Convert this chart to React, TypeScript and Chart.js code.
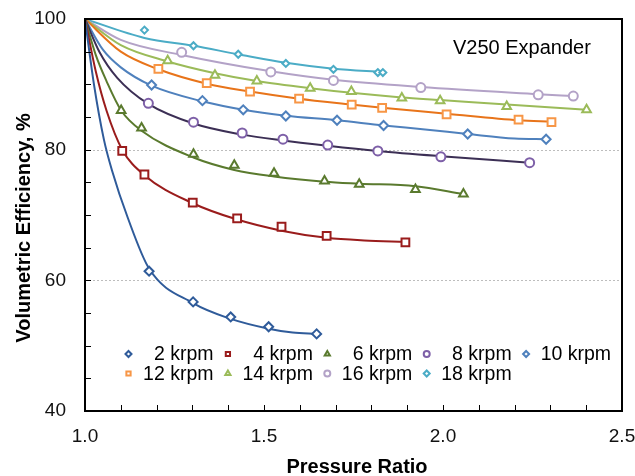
import { useEffect, useRef } from 'react';
import { Chart, registerables } from 'chart.js';
import { drawPoint } from 'chart.js/helpers';

Chart.register(...registerables);

// ---- Data ----
const seriesLabels = ['2 krpm', '4 krpm', '6 krpm', '8 krpm', '10 krpm', '12 krpm', '14 krpm', '16 krpm', '18 krpm'];

// measured points (markers)
const ratio2 = [1.179, 1.302, 1.407, 1.513, 1.647];
const eff2 = [61.4, 56.7, 54.4, 52.9, 51.8];
const ratio4 = [1.104, 1.166, 1.301, 1.425, 1.549, 1.675, 1.895];
const eff4 = [79.8, 76.2, 71.9, 69.5, 68.2, 66.8, 65.8];
const ratio6 = [1.101, 1.158, 1.303, 1.417, 1.528, 1.669, 1.766, 1.923, 2.057];
const eff6 = [86.0, 83.3, 79.3, 77.6, 76.4, 75.2, 74.7, 73.9, 73.2];
const ratio8 = [1.177, 1.303, 1.439, 1.553, 1.678, 1.818, 1.994, 2.242];
const eff8 = [87.1, 84.2, 82.55, 81.6, 80.7, 79.8, 78.9, 78.0];
const ratio10 = [1.186, 1.328, 1.442, 1.561, 1.704, 1.834, 2.069, 2.288];
const eff10 = [89.9, 87.5, 86.1, 85.15, 84.5, 83.7, 82.4, 81.6];
const ratio12 = [1.205, 1.34, 1.461, 1.598, 1.745, 1.83, 2.01, 2.211, 2.303];
const eff12 = [92.35, 90.2, 88.9, 87.8, 86.9, 86.4, 85.4, 84.6, 84.2];
const ratio14 = [1.231, 1.363, 1.48, 1.629, 1.744, 1.885, 1.992, 2.178, 2.401];
const eff14 = [93.6, 91.4, 90.5, 89.4, 88.9, 87.9, 87.5, 86.6, 86.1];
const ratio16 = [1.27, 1.519, 1.694, 1.938, 2.266, 2.364];
const eff16 = [94.9, 91.9, 90.6, 89.5, 88.4, 88.2];
const ratio18 = [1.166, 1.303, 1.428, 1.561, 1.694, 1.818, 1.832];
const eff18 = [98.3, 95.9, 94.6, 93.2, 92.3, 91.8, 91.8];

// trend curves
const fitRatio2 = [1.0, 1.025, 1.053, 1.075, 1.12, 1.179, 1.302, 1.407, 1.513, 1.58, 1.647];
const fitEff2 = [100, 90, 81.5, 76.9, 69.5, 61.8, 56.5, 54.1, 52.6, 52.0, 51.8];
const fitRatio4 = [1.0, 1.03, 1.06, 1.104, 1.166, 1.301, 1.425, 1.549, 1.675, 1.78, 1.895];
const fitEff4 = [100, 92.0, 86.0, 80.0, 76.1, 71.8, 69.3, 67.6, 66.5, 66.1, 65.9];
const fitRatio6 = [1.0, 1.03, 1.06, 1.101, 1.158, 1.303, 1.417, 1.528, 1.669, 1.766, 1.923, 2.057];
const fitEff6 = [100, 94.5, 90.5, 86.0, 82.9, 78.8, 76.9, 75.9, 75.1, 74.8, 74.4, 73.2];
const fitRatio8 = [1.0, 1.04, 1.09, 1.177, 1.303, 1.439, 1.553, 1.678, 1.818, 1.994, 2.242];
const fitEff8 = [100, 95.0, 91.0, 87.0, 84.0, 82.3, 81.4, 80.6, 79.8, 79.0, 78.0];
const fitRatio10 = [1.0, 1.05, 1.1, 1.186, 1.328, 1.442, 1.561, 1.704, 1.834, 1.95, 2.069, 2.2, 2.288];
const fitEff10 = [100, 95.3, 92.6, 89.8, 87.4, 86.1, 85.2, 84.5, 83.7, 83.1, 82.4, 81.7, 81.6];
const fitRatio12 = [1.0, 1.1, 1.205, 1.34, 1.461, 1.598, 1.745, 1.83, 2.01, 2.211, 2.303];
const fitEff12 = [100, 95.0, 92.3, 90.1, 88.9, 87.8, 86.9, 86.4, 85.5, 84.5, 84.3];
const fitRatio14 = [1.0, 1.1, 1.231, 1.363, 1.48, 1.629, 1.744, 1.885, 1.992, 2.178, 2.401];
const fitEff14 = [100, 96.0, 93.5, 91.7, 90.5, 89.4, 88.7, 88.0, 87.6, 86.9, 86.1];
const fitRatio16 = [1.0, 1.1, 1.27, 1.519, 1.694, 1.938, 2.266, 2.364];
const fitEff16 = [100, 96.8, 94.5, 92.0, 90.7, 89.6, 88.5, 88.2];
const fitRatio18 = [1.0, 1.166, 1.303, 1.428, 1.561, 1.694, 1.832];
const fitEff18 = [100, 97.1, 95.9, 94.6, 93.3, 92.4, 91.9];

const xTickValues = [1.0, 1.5, 2.0, 2.5];
const yTickValues = [40, 60, 80, 100];
const gridValues = [60, 80];
const annotationText = 'V250 Expander';
const xTitle = 'Pressure Ratio';
const yTitle = 'Volumetric Efficiency, %';

// ---- Styles ----
const markerColors = ['#2F5B9A', '#9A1C1C', '#5A7A2E', '#7E60A8', '#4F81BD', '#F79646', '#9BBB59', '#B3A2C7', '#4BACC6'];
const lineColors = ['#2F5B9A', '#9A1C1C', '#5A7A2E', '#3C2F55', '#4F81BD', '#E8741A', '#9BBB59', '#B3A2C7', '#4BACC6'];
const pointStyles = ['rectRot', 'rect', 'triangle', 'circle', 'rectRot', 'rect', 'triangle', 'circle', 'rectRot'];
const pointRadii = [4.5, 5.5, 5, 4.5, 4.5, 5.5, 5, 4.5, 3.5];
const FONT = 'Liberation Sans, Arial, sans-serif';

const seriesX = [ratio2, ratio4, ratio6, ratio8, ratio10, ratio12, ratio14, ratio16, ratio18];
const seriesY = [eff2, eff4, eff6, eff8, eff10, eff12, eff14, eff16, eff18];
const fitX = [fitRatio2, fitRatio4, fitRatio6, fitRatio8, fitRatio10, fitRatio12, fitRatio14, fitRatio16, fitRatio18];
const fitY = [fitEff2, fitEff4, fitEff6, fitEff8, fitEff10, fitEff12, fitEff14, fitEff16, fitEff18];

const decorPlugin = {
  id: 'decor',
  beforeDatasetsDraw(chart: any) {
    const { ctx, chartArea: a, scales } = chart;
    const y = scales.y;
    ctx.save();
    ctx.strokeStyle = '#BDBDBD';
    ctx.lineWidth = 1;
    ctx.setLineDash([2, 2]);
    for (const v of gridValues) {
      const py = Math.round(y.getPixelForValue(v)) + 0.5;
      ctx.beginPath();
      ctx.moveTo(a.left, py);
      ctx.lineTo(a.right, py);
      ctx.stroke();
    }
    ctx.restore();
  },
  afterDatasetsDraw(chart: any) {
    const { ctx, chartArea: a, scales } = chart;
    const x = scales.x;
    const y = scales.y;
    ctx.save();
    ctx.strokeStyle = '#000';
    ctx.lineWidth = 1;
    // minor ticks
    for (let v = 45; v < 100; v += 5) {
      const py = Math.round(y.getPixelForValue(v)) + 0.5;
      ctx.beginPath();
      ctx.moveTo(a.left, py);
      ctx.lineTo(a.left + 6, py);
      ctx.stroke();
    }
    for (let k = 11; k < 25; k++) {
      const px = Math.round(x.getPixelForValue(k / 10)) + 0.5;
      ctx.beginPath();
      ctx.moveTo(px, a.bottom);
      ctx.lineTo(px, a.bottom - 6);
      ctx.stroke();
    }
    // frame
    ctx.lineWidth = 2;
    ctx.strokeRect(a.left, a.top, a.right - a.left, a.bottom - a.top);
    ctx.restore();
  },
  afterDraw(chart: any) {
    const { ctx } = chart;
    ctx.save();
    // legend
    ctx.font = `19.5px ${FONT}`;
    ctx.textAlign = 'right';
    ctx.textBaseline = 'middle';
    for (let i = 0; i < seriesLabels.length; i++) {
      const row = i < 5 ? 0 : 1;
      const col = i < 5 ? i : i - 5;
      const mx = 128.5 + col * 99.4;
      const my = row === 0 ? 354 : 373.5;
      ctx.strokeStyle = markerColors[i];
      ctx.fillStyle = '#fff';
      ctx.lineWidth = 2;
      drawPoint(ctx, { pointStyle: pointStyles[i], radius: 3, borderWidth: 2, rotation: 0 } as any, mx, my);
      ctx.fillStyle = '#000';
      ctx.fillText(seriesLabels[i], mx + 85, my + 1);
    }
    // annotation
    ctx.textAlign = 'left';
    ctx.textBaseline = 'alphabetic';
    ctx.font = `20px ${FONT}`;
    ctx.fillText(annotationText, 453, 54);
    // axis titles
    ctx.font = `bold 20px ${FONT}`;
    ctx.textAlign = 'center';
    ctx.textBaseline = 'middle';
    ctx.fillText(xTitle, 357, 467);
    ctx.translate(24, 228);
    ctx.rotate(-Math.PI / 2);
    ctx.fillText(yTitle, 0, 0);
    ctx.restore();
  },
};

export default function App() {
  const canvasRef = useRef<HTMLCanvasElement | null>(null);

  useEffect(() => {
    const canvas = canvasRef.current;
    if (!canvas) return;
    const markerSets = seriesLabels.map((label, i) => ({
      type: 'scatter' as const,
      label,
      data: seriesX[i].map((xv, j) => ({ x: xv, y: seriesY[i][j] })),
      showLine: false,
      pointStyle: pointStyles[i],
      pointRadius: pointRadii[i],
      pointBorderWidth: 2,
      pointBorderColor: markerColors[i],
      pointBackgroundColor: '#ffffff',
      order: 0,
    }));
    const fitSets = seriesLabels.map((label, i) => ({
      type: 'scatter' as const,
      label: label + ' fit',
      data: fitX[i].map((xv, j) => ({ x: xv, y: fitY[i][j] })),
      showLine: true,
      pointRadius: 0,
      borderColor: lineColors[i],
      borderWidth: 2,
      cubicInterpolationMode: 'monotone' as const,
      order: 1,
    }));

    const chart = new Chart(canvas, {
      type: 'scatter',
      data: { datasets: [...markerSets, ...fitSets] as any },
      options: {
        responsive: false,
        animation: false,
        layout: { padding: { top: 19, right: 13, left: 0, bottom: 0 } },
        plugins: { legend: { display: false }, tooltip: { enabled: false } },
        scales: {
          x: {
            type: 'linear',
            min: 1.0,
            max: 2.5,
            afterFit: (s: any) => {
              s.height = 65;
              s.paddingLeft = 0;
              s.paddingRight = 0;
              s.paddingTop = 0;
              s.paddingBottom = 0;
            },
            afterBuildTicks: (s: any) => { s.ticks = xTickValues.map((v) => ({ value: v })); },
            grid: { display: false, drawTicks: false },
            border: { display: false },
            ticks: {
              padding: 14,
              color: '#111',
              font: { family: FONT, size: 19 },
              callback: (v: any) => Number(v).toFixed(1),
            },
          },
          y: {
            type: 'linear',
            min: 40,
            max: 100,
            afterFit: (s: any) => {
              s.width = 85;
              s.paddingLeft = 0;
              s.paddingRight = 0;
              s.paddingTop = 0;
              s.paddingBottom = 0;
            },
            afterBuildTicks: (s: any) => { s.ticks = yTickValues.map((v) => ({ value: v })); },
            grid: { display: false, drawTicks: false },
            border: { display: false },
            ticks: {
              padding: 19,
              color: '#111',
              font: { family: FONT, size: 19 },
            },
          },
        },
      },
      plugins: [decorPlugin],
    });
    return () => chart.destroy();
  }, []);

  return (
    <div style={{ position: 'fixed', left: 0, top: 0, width: 635, height: 476, background: '#fff' }}>
      <canvas ref={canvasRef} width={635} height={476} style={{ display: 'block' }} />
    </div>
  );
}
